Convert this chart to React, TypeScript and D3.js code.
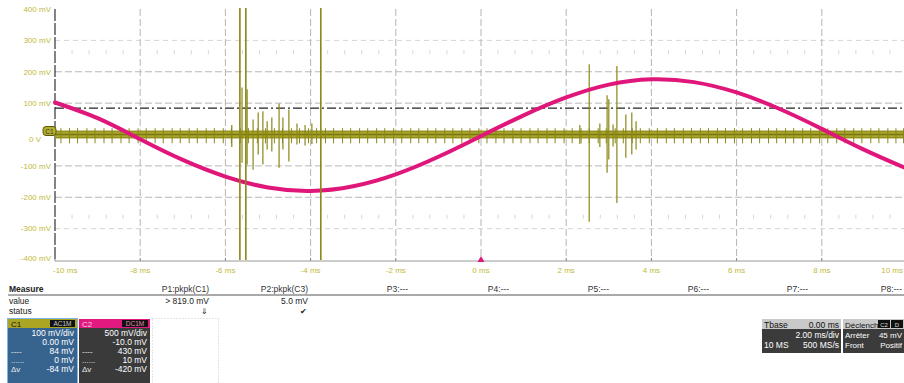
import React from 'react';
import * as d3 from 'd3';

// ---------- data ----------
const timeTicksMs = [-10, -8, -6, -4, -2, 0, 2, 4, 6, 8, 10];
const timeTickLabels = ['-10 ms', '-8 ms', '-6 ms', '-4 ms', '-2 ms', '0 ms', '2 ms', '4 ms', '6 ms', '8 ms', '10 ms'];
const voltTicksMv = [400, 300, 200, 100, 0, -100, -200, -300, -400];
const voltTickLabels = ['400 mV', '300 mV', '200 mV', '100 mV', '0 V', '-100 mV', '-200 mV', '-300 mV', '-400 mV'];

// C2 (500 mV/div, offset -10 mV) sine trace samples
const c2TimesMs = [-10, -9, -8, -7, -6, -5, -4, -3, -2, -1, 0, 1, 2, 3, 4, 5, 6, 7, 8, 9, 10];
const c2ValuesMv = [520, 270, -65, -395, -660, -835, -890, -815, -625, -345, -15, 315, 600, 805, 890, 845, 680, 420, 100, -235, -535];
const c2OffsetMv = -10;
const c2ScaleRatio = 5; // 500 mV/div vs 100 mV/div

// C1 trace: baseline noise + glitches
const c1NoiseHalfMv = 12;
const c1RegularGlitchTimesMs = [
  -9.86, -9.66, -9.47, -9.25, -9.06, -8.85, -8.66, -8.45, -8.26, -8.05, -7.86, -7.65, -7.46, -7.25, -7.06,
  -6.85, -6.66, -6.45, -6.26, -6.05, -5.86, -5.65, -5.46, -5.25, -5.06, -4.85, -4.66, -4.45, -4.26, -4.05,
  -3.86, -3.65, -3.46, -3.25, -3.06, -2.85, -2.66, -2.45, -2.26, -2.05, -1.86, -1.65, -1.46, -1.25, -1.06,
  -0.85, -0.66, -0.45, -0.26, -0.05, 0.14, 0.35, 0.54, 0.75, 0.94, 1.15, 1.34, 1.55, 1.74, 1.95, 2.14, 2.35,
  2.54, 2.75, 2.94, 3.15, 3.34, 3.55, 3.74, 3.95, 4.14, 4.35, 4.54, 4.75, 4.94, 5.15, 5.34, 5.55, 5.74, 5.95,
  6.14, 6.35, 6.54, 6.75, 6.94, 7.15, 7.34, 7.55, 7.74, 7.95, 8.14, 8.35, 8.54, 8.75, 8.94, 9.15, 9.34, 9.55,
  9.74, 9.92,
];
const c1RegularGlitchHiMv = 20;
const c1RegularGlitchLoMv = -28;
// [time ms, high mV, low mV]
const c1BurstGlitches: [number, number, number][] = [
  [-5.85, 30, -40], [-5.61, 150, -90], [-5.49, 144, -96], [-5.35, 48, -112], [-5.23, 70, -64],
  [-5.12, 74, -96], [-5.02, 42, -48], [-4.91, 54, -54], [-4.74, 99, -106], [-4.65, 54, -48],
  [-4.51, 80, -86], [-4.32, 35, -32], [-4.13, 30, -35], [-3.97, 35, -30],
  [2.32, 30, -30], [2.54, 224, -278], [2.79, 35, -40], [2.96, 125, -122], [3.0, 112, -80],
  [3.1, 32, -38], [3.19, 218, -218], [3.4, 64, -74], [3.54, 70, -64], [3.64, 42, -48],
];
const c1ClippedGlitchTimesMs = [-5.66, -5.52, -3.76];
const cursorLevelMv = 84;
const triggerTimeMs = 0;

const measureHeaders = ['P1:pkpk(C1)', 'P2:pkpk(C3)', 'P3:---', 'P4:---', 'P5:---', 'P6:---', 'P7:---', 'P8:---'];
const measureValues = ['> 819.0 mV', '5.0 mV', '', '', '', '', '', ''];
const measureStatus = ['⇓', '✔', '', '', '', '', '', ''];

const c1BoxLines = [['', '100 mV/div'], ['', '0.00 mV'], ['----', '84 mV'], ['......', '0 mV'], ['Δv', '-84 mV']];
const c2BoxLines = [['', '500 mV/div'], ['', '-10.0 mV'], ['----', '430 mV'], ['......', '10 mV'], ['Δv', '-420 mV']];

// ---------- layout ----------
const W = 904;
const H = 383;
const FONT = '"Liberation Sans", Arial, sans-serif';
const YELLOW = '#8a8716';
const LABEL_YELLOW = '#c2ba3a';
const PINK = '#e0177b';

export default function App() {
  const x = d3.scaleLinear().domain([-10, 10]).range([55, 907]);
  const y = d3.scaleLinear().domain([-400, 400]).range([260, 9]);
  const plotTop = y(400);
  const plotBottom = y(-400);
  const plotLeft = x(-10);

  const c2Line = d3
    .line<number>()
    .x((_, i) => x(c2TimesMs[i]))
    .y((v) => y((v + c2OffsetMv) / c2ScaleRatio))
    .curve(d3.curveNatural);

  const clampY = (v: number) => Math.max(plotTop, Math.min(plotBottom, v));

  const minorTicks = d3.range(-10, 10.01, 0.4).filter((t) => Math.abs(t / 2 - Math.round(t / 2)) > 0.01);

  const measureColRight = [209, 308, 408, 509, 609, 709, 808, 902];

  return (
    <svg
      width={W}
      height={H}
      style={{ position: 'absolute', left: 0, top: 0, background: '#fff' }}
      fontFamily={FONT}
    >
      <rect x={0} y={0} width={W} height={H} fill="#fff" />
      {/* horizontal grid */}
      {voltTicksMv
        .filter((v) => Math.abs(v) < 400 && v !== 0)
        .map((v) => (
          <line
            key={'h' + v}
            x1={plotLeft}
            x2={W}
            y1={y(v)}
            y2={y(v)}
            stroke={Math.abs(v) === 300 ? '#d4d4d4' : '#b8b8b8'}
            strokeDasharray={Math.abs(v) === 300 ? '5,4' : '7,3'}
            strokeWidth={1}
          />
        ))}
      {/* minor tick rows */}
      {[262, -262].map((lv) =>
        minorTicks.map((t) => (
          <line key={'m' + lv + t} x1={x(t)} x2={x(t)} y1={y(lv) - 2} y2={y(lv) + 2} stroke="#d6d6d6" strokeWidth={1} />
        ))
      )}
      {/* vertical grid */}
      {timeTicksMs
        .filter((t) => t > -10)
        .map((t) => (
          <line key={'v' + t} x1={x(t)} x2={x(t)} y1={plotTop} y2={plotBottom} stroke="#b4b4b4" strokeDasharray="7,3" />
        ))}
      {/* axes */}
      <line x1={plotLeft} x2={plotLeft} y1={plotTop} y2={plotBottom + 1} stroke="#333" strokeWidth={1.2} strokeDasharray="12,2" />
      <line x1={plotLeft} x2={W} y1={plotBottom + 1} y2={plotBottom + 1} stroke="#9a9a9a" strokeWidth={1} />
      {timeTicksMs.map((t) => (
        <line key={'tk' + t} x1={x(t)} x2={x(t)} y1={plotBottom - 2} y2={plotBottom + 1} stroke="#888" />
      ))}

      {/* cursor line */}
      <line
        x1={plotLeft}
        x2={W}
        y1={y(cursorLevelMv)}
        y2={y(cursorLevelMv)}
        stroke="#222"
        strokeWidth={1.3}
        strokeDasharray="9,3,2,3"
      />

      {/* C1 noise band */}
      <rect
        x={plotLeft}
        y={y(c1NoiseHalfMv)}
        width={W - plotLeft}
        height={y(-c1NoiseHalfMv) - y(c1NoiseHalfMv)}
        fill="#aaa52e"
      />
      <line x1={plotLeft} x2={W} y1={y(0)} y2={y(0)} stroke="#7a7710" strokeWidth={1.5} />
      <line x1={plotLeft} x2={W} y1={y(c1NoiseHalfMv) + 0.5} y2={y(c1NoiseHalfMv) + 0.5} stroke="#8d8a18" strokeWidth={1} />
      <line x1={plotLeft} x2={W} y1={y(-c1NoiseHalfMv) - 0.5} y2={y(-c1NoiseHalfMv) - 0.5} stroke="#8d8a18" strokeWidth={1} />
      {c1RegularGlitchTimesMs.map((t, i) => (
        <line
          key={'g' + i}
          x1={x(t)}
          x2={x(t)}
          y1={y(c1RegularGlitchHiMv)}
          y2={y(c1RegularGlitchLoMv)}
          stroke={YELLOW}
          strokeWidth={1}
        />
      ))}
      {c1BurstGlitches.map(([t, hi, lo], i) => (
        <line
          key={'b' + i}
          x1={x(t)}
          x2={x(t)}
          y1={clampY(y(hi))}
          y2={clampY(y(lo))}
          stroke={YELLOW}
          strokeWidth={1.2}
        />
      ))}

      {/* C2 sine */}
      <path d={c2Line(c2ValuesMv) || ''} fill="none" stroke={PINK} strokeWidth={4} strokeLinecap="round" />

      {/* clipped full-scale glitches */}
      {c1ClippedGlitchTimesMs.map((t, i) => (
        <line key={'c' + i} x1={x(t)} x2={x(t)} y1={plotTop - 1} y2={plotBottom} stroke={YELLOW} strokeWidth={1.6} />
      ))}

      {/* y labels */}
      {voltTicksMv.map((v, i) => (
        <text
          key={'yl' + v}
          x={v === 0 ? 41 : 51}
          y={v === 0 ? y(v) + 5 : Math.max(6, Math.min(258, y(v)))}
          dy="0.35em"
          textAnchor="end"
          fontSize={8}
          fill={LABEL_YELLOW}
        >
          {voltTickLabels[i]}
        </text>
      ))}
      {/* C1 marker */}
      <rect x={43} y={y(0) - 8} width={13} height={9} rx={3} fill="#b4ae2c" stroke="#5a580a" strokeWidth={1} />
      <text x={49.5} y={y(0) - 1} textAnchor="middle" fontSize={6.5} fill="#333">C1</text>

      {/* x labels */}
      {timeTicksMs.map((t, i) => (
        <text
          key={'xl' + t}
          x={i === 0 ? x(t) - 2 : i === timeTicksMs.length - 1 ? 903 : x(t)}
          y={273}
          textAnchor={i === 0 ? 'start' : i === timeTicksMs.length - 1 ? 'end' : 'middle'}
          fontSize={8}
          fill={LABEL_YELLOW}
        >
          {timeTickLabels[i]}
        </text>
      ))}
      {/* trigger marker */}
      <path
        d={`M${x(triggerTimeMs)},${plotBottom - 4} L${x(triggerTimeMs) - 3.5},${plotBottom + 2} L${x(triggerTimeMs) + 3.5},${plotBottom + 2} Z`}
        fill={PINK}
      />

      {/* Measure table */}
      <text x={9} y={292} fontSize={8.5} fontWeight="bold" fill="#222">Measure</text>
      <line x1={8} x2={W} y1={295} y2={295} stroke="#555" strokeWidth={1} />
      <text x={9} y={304} fontSize={8.5} fill="#222">value</text>
      <text x={9} y={314} fontSize={8.5} fill="#222">status</text>
      {measureHeaders.map((h, i) => (
        <g key={'mh' + i}>
          <text x={measureColRight[i]} y={292} textAnchor="end" fontSize={8.5} fill="#333">{h}</text>
          {measureValues[i] && (
            <text x={measureColRight[i]} y={304} textAnchor="end" fontSize={8.5} fill="#222">{measureValues[i]}</text>
          )}
          {measureStatus[i] && (
            <text x={measureColRight[i] - 5} y={314} textAnchor="middle" fontSize={8} fill="#222">{measureStatus[i]}</text>
          )}
        </g>
      ))}

      {/* C1 box */}
      <rect x={7.5} y={318.5} width={70} height={70} fill="#37648f" stroke="#7fb3e0" />
      <rect x={8} y={319} width={69} height={9} fill="#aba524" />
      <text x={11} y={327} fontSize={8} fill="#111">C1</text>
      <rect x={50} y={320} width={25} height={7} fill="#111" />
      <text x={62.5} y={326} textAnchor="middle" fontSize={6.5} fill="#ccc">AC1M</text>
      {c1BoxLines.map(([l, r], i) => (
        <g key={'c1l' + i}>
          {l && <text x={11} y={336 + i * 9} fontSize={8} fill="#eee">{l}</text>}
          <text x={74} y={336 + i * 9} textAnchor="end" fontSize={8.5} fill="#fff">{r}</text>
        </g>
      ))}

      {/* C2 box */}
      <rect x={79} y={319} width={71} height={70} fill="#3a3a3a" />
      <rect x={79} y={319} width={71} height={9} fill="#e2197e" />
      <text x={82} y={327} fontSize={8} fill="#f4d0e0">C2</text>
      <rect x={122} y={320} width={26} height={7} fill="#111" />
      <text x={135} y={326} textAnchor="middle" fontSize={6.5} fill="#e48bb5">DC1M</text>
      {c2BoxLines.map(([l, r], i) => (
        <g key={'c2l' + i}>
          {l && <text x={82} y={336 + i * 9} fontSize={8} fill="#eee">{l}</text>}
          <text x={147} y={336 + i * 9} textAnchor="end" fontSize={8.5} fill="#fff">{r}</text>
        </g>
      ))}

      {/* empty dotted slot */}
      <rect x={152.5} y={318.5} width={66} height={70} fill="none" stroke="#c8c8c8" strokeDasharray="1,2" />

      {/* Timebase box */}
      <rect x={762} y={319} width={79} height={34} fill="#3b3b3b" />
      <rect x={762} y={319} width={79} height={10} fill="#c9c9c9" />
      <text x={764} y={327.5} fontSize={8.5} fill="#111">Tbase</text>
      <text x={839} y={327.5} textAnchor="end" fontSize={8.5} fill="#111">0.00 ms</text>
      <text x={839} y={338} textAnchor="end" fontSize={8.5} fill="#fff">2.00 ms/div</text>
      <text x={764} y={348} fontSize={8.5} fill="#fff">10 MS</text>
      <text x={839} y={348} textAnchor="end" fontSize={8.5} fill="#fff">500 MS/s</text>

      {/* Trigger box */}
      <rect x={843} y={319} width={61} height={34} fill="#3b3b3b" />
      <rect x={843} y={319} width={61} height={10} fill="#c9c9c9" />
      <text x={845} y={327.5} fontSize={8} fill="#111">Déclench</text>
      <rect x={878} y={320} width={12} height={8} fill="#111" />
      <text x={884} y={326.5} textAnchor="middle" fontSize={6} fill="#ddd">C2</text>
      <rect x={891} y={320} width={12} height={8} fill="#111" />
      <text x={897} y={326.5} textAnchor="middle" fontSize={6} fill="#ddd">D</text>
      <text x={845} y={338} fontSize={8} fill="#fff">Arrêter</text>
      <text x={902} y={338} textAnchor="end" fontSize={8} fill="#fff">45 mV</text>
      <text x={845} y={348} fontSize={8} fill="#fff">Front</text>
      <text x={902} y={348} textAnchor="end" fontSize={8} fill="#fff">Positif</text>
    </svg>
  );
}
